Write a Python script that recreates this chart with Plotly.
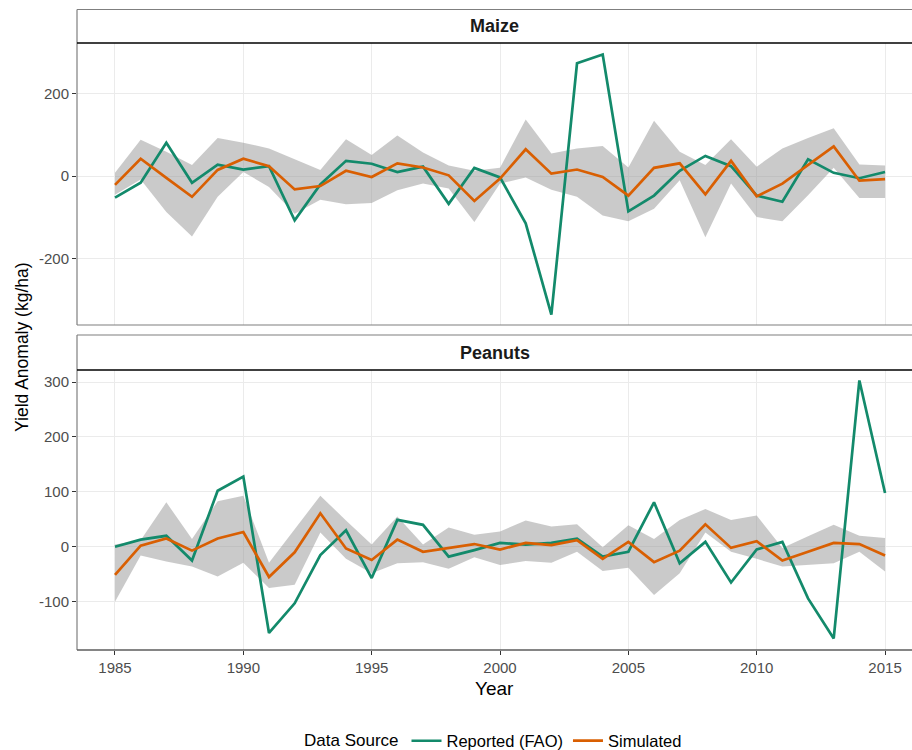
import plotly.graph_objects as go

years = list(range(1985, 2016))

maize_reported = [-52, -16, 81, -16, 28, 16, 24, -107, -20, 37, 30,
                  10, 23, -67, 20, -3, -114, -335, 273, 294, -85,
                  -47, 13, 49, 24, -47, -62, 41, 8, -5, 10]
maize_simulated = [-21, 42, -4, -50, 15, 42, 24, -32, -24, 13, -2,
                   31, 21, 2, -60, -6, 65, 6, 16, -2, -47,
                   20, 31, -44, 37, -49, -18, 26, 72, -11, -7]
maize_upper = [8, 88, 59, 27, 92, 81, 67, 41, 15, 89, 51,
               98, 57, 26, 13, 20, 137, 55, 67, 73, 21,
               134, 59, 27, 89, 23, 67, 92, 116, 28, 26]
maize_lower = [-45, -8, -87, -146, -50, 10, -26, -91, -57, -68, -65,
               -34, -18, -30, -111, -18, -3, -33, -50, -95, -109,
               -79, -10, -148, -18, -99, -109, -46, 20, -53, -53]

peanut_reported = [0, 13, 20, -25, 102, 128, -157, -103, -15, 30, -57,
                   49, 40, -18, -6, 7, 4, 7, 15, -18, -9,
                   81, -30, 9, -65, -5, 9, -94, -167, 303, 98]
peanut_simulated = [-51, 2, 15, -7, 15, 27, -55, -10, 61, -3, -24,
                    13, -9, -2, 5, -5, 7, 3, 12, -22, 9,
                    -28, -7, 41, -2, 10, -25, -9, 7, 5, -16]
peanut_upper = [4, 12, 81, 14, 83, 93, -29, 31, 93, 48, 4,
                55, 4, 35, 22, 28, 48, 37, 41, -1, 39,
                14, 49, 69, 49, 57, -2, 19, 40, 20, 16]
peanut_lower = [-100, -16, -27, -36, -54, -29, -75, -69, 26, -22, -48,
                -30, -28, -40, -19, -33, -26, -29, -9, -44, -38,
                -88, -48, 26, -9, -22, -36, -33, -30, -9, -45]

x_ticks = [1985, 1990, 1995, 2000, 2005, 2010, 2015]
maize_y_ticks = [-200, 0, 200]
peanut_y_ticks = [-100, 0, 100, 200, 300]
panel_names = ["Maize", "Peanuts"]

GREEN = "#138a6b"
ORANGE = "#d95f02"
BAND = "rgba(150,150,150,0.5)"
FONT = "Liberation Sans, Arial, sans-serif"

fig = go.Figure()

panels = [
    (maize_reported, maize_simulated, maize_upper, maize_lower, "x", "y", True),
    (peanut_reported, peanut_simulated, peanut_upper, peanut_lower, "x2", "y2", False),
]
for rep, sim, up, lo, xa, ya, show in panels:
    fig.add_trace(go.Scatter(
        x=years + years[::-1], y=up + lo[::-1], fill="toself",
        fillcolor=BAND, line=dict(width=0), mode="lines",
        showlegend=False, hoverinfo="skip", xaxis=xa, yaxis=ya))
    fig.add_trace(go.Scatter(
        x=years, y=rep, mode="lines", name="Reported (FAO)",
        line=dict(color=GREEN, width=2.7), showlegend=show,
        legendgroup="rep", xaxis=xa, yaxis=ya))
    fig.add_trace(go.Scatter(
        x=years, y=sim, mode="lines", name="Simulated",
        line=dict(color=ORANGE, width=2.7), showlegend=show,
        legendgroup="sim", xaxis=xa, yaxis=ya))

H = 607.0
def py(pix):
    return (650 - pix) / H

maize_dom = [py(325), 1.0]
peanut_dom = [0.0, py(370)]

common_x = dict(range=[1983.52, 2016.05], tickvals=x_ticks, showgrid=True,
                gridcolor="#ebebeb", gridwidth=1, zeroline=False,
                showline=False, tickfont=dict(family=FONT, size=15, color="#4d4d4d"))
common_y = dict(showgrid=True, gridcolor="#ebebeb", gridwidth=1, zeroline=False,
                showline=False, ticks="outside", ticklen=4, tickcolor="#333333",
                tickwidth=1, tickfont=dict(family=FONT, size=15, color="#4d4d4d"))

fig.update_layout(
    width=912, height=750,
    margin=dict(l=77, r=0, t=43, b=100, autoexpand=False),
    paper_bgcolor="white", plot_bgcolor="white",
    font=dict(family=FONT, color="black"),
    xaxis=dict(**common_x, anchor="y", matches="x2", showticklabels=False, ticks=""),
    yaxis=dict(**common_y, domain=maize_dom, range=[-360, 322], tickvals=maize_y_ticks,
               ticktext=[str(v) for v in maize_y_ticks], anchor="x"),
    xaxis2=dict(**common_x, anchor="y2", ticks="outside", ticklen=4,
                tickcolor="#333333", tickwidth=1),
    yaxis2=dict(**common_y, domain=peanut_dom, range=[-188, 322], tickvals=peanut_y_ticks,
                ticktext=[str(v) for v in peanut_y_ticks], anchor="x2"),
    legend=dict(orientation="h", x=0.5, xanchor="center", y=py(741), yanchor="middle",
                title=dict(text="Data Source", font=dict(family=FONT, size=17)),
                font=dict(family=FONT, size=16.5), itemwidth=30),
    showlegend=True,
)

shapes = []
border = dict(color="#7f7f7f", width=1.2)
for (b, t) in [maize_dom, peanut_dom]:
    shapes.append(dict(type="line", xref="paper", yref="paper", x0=0, x1=0, y0=b, y1=t, line=border))
    shapes.append(dict(type="line", xref="paper", yref="paper", x0=0, x1=1.01, y0=b, y1=b, line=border))
strip_tops = [py(9.5), py(335)]
strip_bots = [maize_dom[1], peanut_dom[1]]
for st, sb in zip(strip_tops, strip_bots):
    shapes.append(dict(type="line", xref="paper", yref="paper", x0=0, x1=0, y0=sb, y1=st, line=border))
    shapes.append(dict(type="line", xref="paper", yref="paper", x0=0, x1=1.01, y0=st, y1=st, line=border))
    shapes.append(dict(type="line", xref="paper", yref="paper", x0=0, x1=1.01, y0=sb, y1=sb,
                       line=dict(color="black", width=1.5)))
shapes.append(dict(type="line", xref="paper", yref="paper", x0=0, x1=1.01, y0=0, y1=0,
                   line=dict(color="#4d4d4d", width=1.2)))
fig.update_layout(shapes=shapes)

annotations = []
for name, st, sb in zip(panel_names, strip_tops, strip_bots):
    annotations.append(dict(text="<b>" + name + "</b>", xref="paper", yref="paper",
                            x=0.5, y=(st + sb) / 2, xanchor="center", yanchor="middle",
                            showarrow=False, font=dict(family=FONT, size=18, color="#1a1a1a")))
annotations.append(dict(text="Yield Anomaly (kg/ha)", xref="paper", yref="paper",
                        x=(22 - 77) / 835.0, y=py(347), xanchor="center", yanchor="middle",
                        textangle=-90, showarrow=False, font=dict(family=FONT, size=17.5, color="black")))
annotations.append(dict(text="Year", xref="paper", yref="paper",
                        x=0.5, y=py(688), xanchor="center", yanchor="middle",
                        showarrow=False, font=dict(family=FONT, size=19, color="black")))
fig.update_layout(annotations=annotations)

fig.write_html("out.html")
